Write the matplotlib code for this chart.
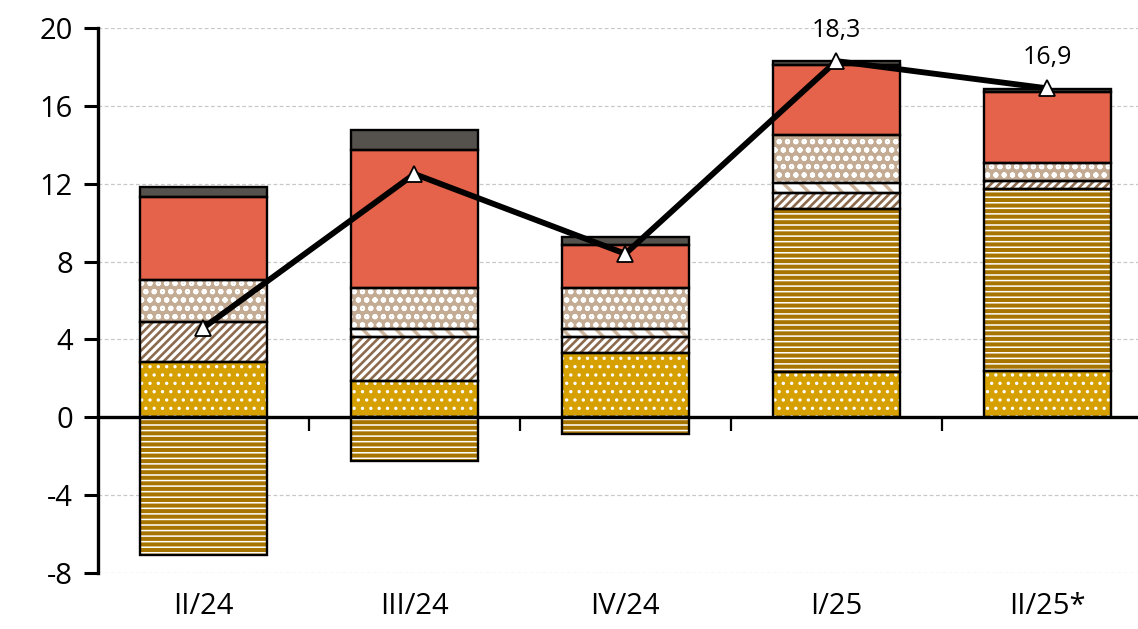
import numpy as np
import matplotlib
matplotlib.use("Agg")
import matplotlib.pyplot as plt

plt.rcParams['font.family'] = ['Open Sans', 'DejaVu Sans']
plt.rcParams['hatch.linewidth'] = 1.0

categories = ['II/24', 'III/24', 'IV/24', 'I/25', 'II/25*']
gold = [2.83, 1.85, 3.30, 2.33, 2.38]
brick = [-7.09, -2.25, -0.84, 8.36, 9.34]
brown_diag = [2.05, 2.28, 0.83, 0.81, 0.41]
light_diag = [0.0, 0.43, 0.43, 0.54, 0.0]
checker = [2.16, 2.09, 2.10, 2.45, 0.94]
red = [4.27, 7.07, 2.18, 3.60, 3.62]
dark = [0.51, 1.06, 0.43, 0.22, 0.17]
total = [4.6, 12.5, 8.4, 18.3, 16.9]
total_labels = ['', '', '', '18,3', '16,9']
yticks = [-8, -4, 0, 4, 8, 12, 16, 20]

# (values, face, hatch, hatch colour, hatch linewidth)
series = [
    (gold, '#D5A000', '..', 'white', 1.2),
    (brick, '#A87400', '---', 'white', 1.1),
    (brown_diag, 'white', '////', '#8B6A4E', 1.9),
    (light_diag, 'white', '\\\\', '#CDB49B', 2.4),
    (checker, '#C4AC94', 'oo', 'white', 1.4),
    (red, '#E5634A', None, None, 1.0),
    (dark, '#55514C', None, None, 1.0),
]

fig = plt.figure(figsize=(11.38, 6.29), dpi=100)
ax = fig.add_axes([0.0861, 0.089, 0.9139, 0.8665])

x = np.arange(len(categories))
width = 0.6
pos_base = np.zeros(len(categories))
neg_base = np.zeros(len(categories))
for vals, face, hatch, hcol, hlw in series:
    v = np.array(vals, dtype=float)
    bottoms = np.where(v >= 0, pos_base, neg_base)
    mask = v != 0
    if hatch:
        with plt.rc_context({'hatch.linewidth': hlw}):
            bars = ax.bar(x[mask], v[mask], width, bottom=bottoms[mask], facecolor=face,
                          edgecolor=hcol, hatch=hatch, linewidth=0, zorder=2)
            for b in bars:
                if hasattr(b, 'set_hatch_linewidth'):
                    b.set_hatch_linewidth(hlw)
    else:
        ax.bar(x[mask], v[mask], width, bottom=bottoms[mask], facecolor=face,
               linewidth=0, zorder=2)
    ax.bar(x[mask], v[mask], width, bottom=bottoms[mask], fill=False,
           edgecolor='black', linewidth=1.7, zorder=3)
    pos_base = pos_base + np.where(v > 0, v, 0)
    neg_base = neg_base + np.where(v < 0, v, 0)

ax.plot(x, total, color='black', linewidth=4.2, marker='^', markersize=12,
        markerfacecolor='white', markeredgecolor='black', markeredgewidth=1.3,
        zorder=5)
for xi, yi, lab in zip(x, total, total_labels):
    if lab:
        ax.annotate(lab, (xi, yi), xytext=(0, 13), textcoords='offset points',
                    ha='center', va='bottom', fontsize=18)

ax.set_xlim(-0.5, 4.43)
ax.set_ylim(-8, 20)
ax.set_yticks(yticks)
ax.set_yticklabels([str(t) for t in yticks])
ax.tick_params(axis='y', direction='out', length=10, width=2.2, labelsize=21, pad=8)
ax.yaxis.grid(True, linestyle=(0, (3, 2)), color='#C8C8C8', linewidth=0.9, zorder=0)
ax.set_axisbelow(True)

for s in ['top', 'right']:
    ax.spines[s].set_visible(False)
ax.spines['left'].set_linewidth(2.4)
ax.spines['bottom'].set_position(('data', 0))
ax.spines['bottom'].set_linewidth(2.4)
ax.spines['bottom'].set_zorder(4)
ax.set_xticks(x[:-1] + 0.5)
ax.set_xticklabels([])
ax.tick_params(axis='x', direction='out', length=10, width=1.6)

sec = ax.secondary_xaxis(-0.025)
sec.set_xticks(x)
sec.set_xticklabels(categories)
sec.tick_params(length=0, labelsize=21)
sec.spines['bottom'].set_visible(False)

fig.savefig('out.png', dpi=100)
